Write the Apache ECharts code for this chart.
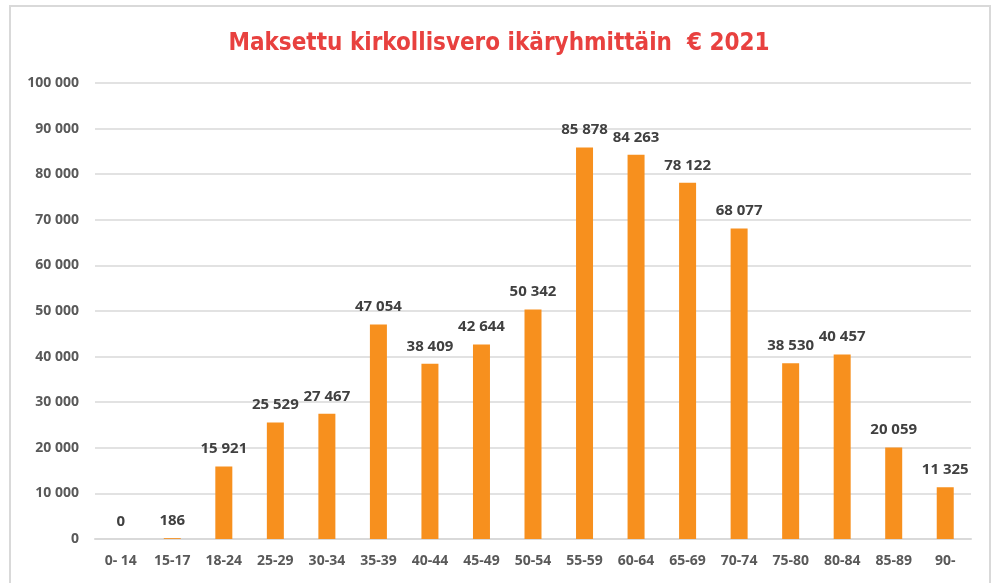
<!DOCTYPE html>
<html>
<head>
<meta charset="utf-8">
<script src="https://cdn.jsdelivr.net/npm/echarts@6/dist/echarts.min.js"></script>
<style>
html, body { margin: 0; padding: 0; background: #fff; }
#chart { width: 998px; height: 583px; }
</style>
</head>
<body>
<div id="chart"></div>
<script>
var ageGroups = ['0- 14', '15-17', '18-24', '25-29', '30-34', '35-39', '40-44', '45-49', '50-54',
    '55-59', '60-64', '65-69', '70-74', '75-80', '80-84', '85-89', '90-'];
var taxPaid = [0, 186, 15921, 25529, 27467, 47054, 38409, 42644, 50342,
    85878, 84263, 78122, 68077, 38530, 40457, 20059, 11325];

function fmt(v) {
    return String(v).replace(/\B(?=(\d{3})+(?!\d))/g, ' ');
}

var myChart = echarts.init(document.getElementById('chart'));

var option = {
    animation: false,
    backgroundColor: '#fff',
    title: {
        text: 'Maksettu kirkollisvero ikäryhmittäin  € 2021',
        left: 'center',
        top: 27,
        textStyle: {
            color: '#e8413f',
            fontSize: 24,
            fontWeight: 'bold',
            fontFamily: '"DejaVu Sans Condensed", "Liberation Sans Narrow", sans-serif'
        }
    },
    graphic: [{
        type: 'polyline',
        shape: { points: [[10, 600], [10, 6], [990, 6], [990, 600]] },
        style: { stroke: '#d9d9d9', lineWidth: 2, fill: null }
    }],
    grid: {
        left: 95,
        right: 27,
        top: 83,
        bottom: 44
    },
    xAxis: {
        type: 'category',
        data: ageGroups,
        axisTick: { show: false },
        axisLine: { lineStyle: { color: '#d9d9d9', width: 2 } },
        axisLabel: {
            color: '#595959',
            fontSize: 14,
            fontWeight: 'bold',
            fontFamily: '"Open Sans", sans-serif',
            margin: 15,
            interval: 0
        }
    },
    yAxis: {
        type: 'value',
        min: 0,
        max: 100000,
        interval: 10000,
        axisLine: { show: false },
        axisTick: { show: false },
        splitLine: { lineStyle: { color: '#d9d9d9', width: 1.5 } },
        axisLabel: {
            color: '#595959',
            fontSize: 14,
            fontWeight: 'bold',
            fontFamily: '"Open Sans", sans-serif',
            margin: 16,
            formatter: fmt
        }
    },
    series: [{
        type: 'bar',
        data: taxPaid,
        barWidth: 17,
        itemStyle: { color: '#f7901e' },
        label: {
            show: true,
            position: 'top',
            distance: 10,
            color: '#404040',
            fontSize: 15,
            fontWeight: 'bold',
            fontFamily: '"Open Sans", sans-serif',
            formatter: function(p) { return fmt(p.value); }
        }
    }]
};

myChart.setOption(option);
</script>
</body>
</html>
